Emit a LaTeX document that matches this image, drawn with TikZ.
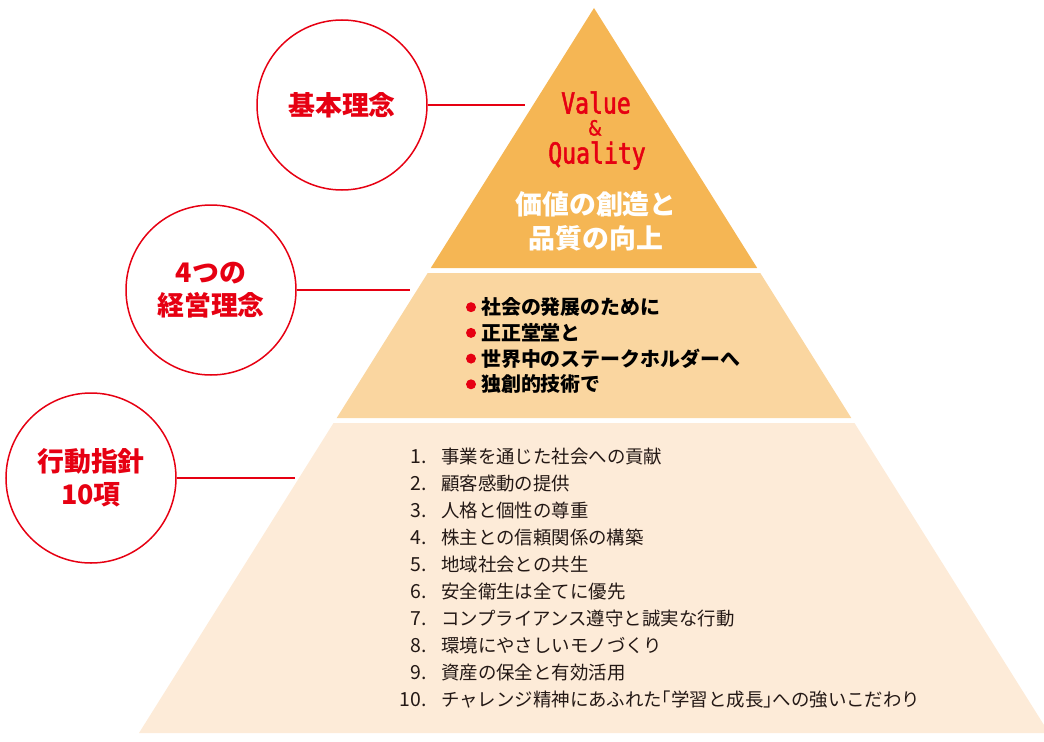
\documentclass[tikz,border=0pt]{standalone}
\usepackage{fontspec}
\setmainfont{Noto Sans CJK JP}
\newfontfamily\latinfont[FakeStretch=0.8, FakeBold=1.8]{DejaVu Sans Mono}
\newfontfamily\ampfont[FakeStretch=0.85, FakeBold=1.2]{DejaVu Sans}
\newfontfamily\jpprop[RawFeature=+halt]{Noto Sans CJK JP}
\usetikzlibrary{positioning}

\definecolor{brandred}{HTML}{E60012}
\definecolor{peaktop}{HTML}{F5B654}
\definecolor{peakmid}{HTML}{FAD6A0}
\definecolor{peakbase}{HTML}{FDEBD8}
\definecolor{listgray}{HTML}{231815}

\begin{document}
\begin{tikzpicture}[
                x=1bp, y=-1bp,
                tier/.style={circle, draw=brandred, line width=1.5bp, minimum size=170bp, inner sep=0pt, align=center, text=brandred, font=\fontsize{27}{33}\selectfont\bfseries},
                link/.style={draw=brandred, line width=1.5bp},
                slogan/.style={text=brandred, inner sep=0pt, text height=21bp, text depth=0pt, font=\latinfont\fontsize{29}{30}\selectfont},
                motto/.style={text=white, align=center, inner sep=0pt, font=\fontsize{27}{34}\selectfont\bfseries},
                pointtext/.style={anchor=west, inner sep=0pt, text=black, font=\fontsize{20}{24}\selectfont\bfseries},
                numtext/.style={anchor=east, inner sep=0pt, text=listgray, font=\fontsize{19.5}{22}\selectfont},
                itemtext/.style={anchor=west, inner sep=0pt, text=listgray, font=\fontsize{18.5}{22}\selectfont}]
            \useasboundingbox (0,0) rectangle (1044,742);

            % Pyramide
            \fill[peaktop] (594,8) -- (430.8,268) -- (757.2,268) -- cycle;
            \fill[peakmid] (427.7,273) -- (760.3,273) -- (851.3,418) -- (336.7,418) -- cycle;
            \fill[peakbase] (333.5,423) -- (854.5,423) -- (1049,733) -- (139,733) -- cycle;

            % Sommet
            \node[slogan] (value) at (596,103) {Value};
            \node[slogan, text height=15bp, font=\ampfont\fontsize{21}{22}\selectfont] (amp) at (595,128) {\&};
            \node[slogan] (quality) at (597,153) {Quality};
            \node[motto] (motto) at (596,221) {価値の創造と\\品質の向上};

            % Milieu
            \foreach \txt [count=\i] in {社会の発展のために, 正正堂堂と, 世界中のステークホルダーへ, 独創的技術で} {
                \node[pointtext] (point\i) at (481, {281.5+25.7*\i}) {\txt};
                \fill[brandred] ([xshift=-10bp]point\i.west) circle (5);
            }

            % Base
            \foreach \txt [count=\i] in {事業を通じた社会への貢献, 顧客感動の提供, 人格と個性の尊重, 株主との信頼関係の構築, 地域社会との共生, 安全衛生は全てに優先, コンプライアンス遵守と誠実な行動, 環境にやさしいモノづくり, 資産の保全と有効活用, チャレンジ精神にあふれた{\jpprop「}学習と成長{\jpprop」}への強いこだわり} {
                \node[numtext] (num\i) at (427, {430.1+26.9*\i}) {\i.};
                \node[itemtext] (item\i) at (441, {430.1+26.9*\i}) {\txt};
            }

            % Cercles
            \node[tier] (kihon) at (342,105) {基本理念};
            \node[tier] (keiei) at (211,290) {4つの\\経営理念};
            \node[tier] (kodo) at (91,478) {行動指針\\10項};

            \coordinate (kihon-end) at (525,105);
            \coordinate (keiei-end) at (410,290);
            \coordinate (kodo-end) at (295,478);

            \draw[link] (kihon) -- (kihon-end);
            \draw[link] (keiei) -- (keiei-end);
            \draw[link] (kodo) -- (kodo-end);

        \end{tikzpicture}
\end{document}
